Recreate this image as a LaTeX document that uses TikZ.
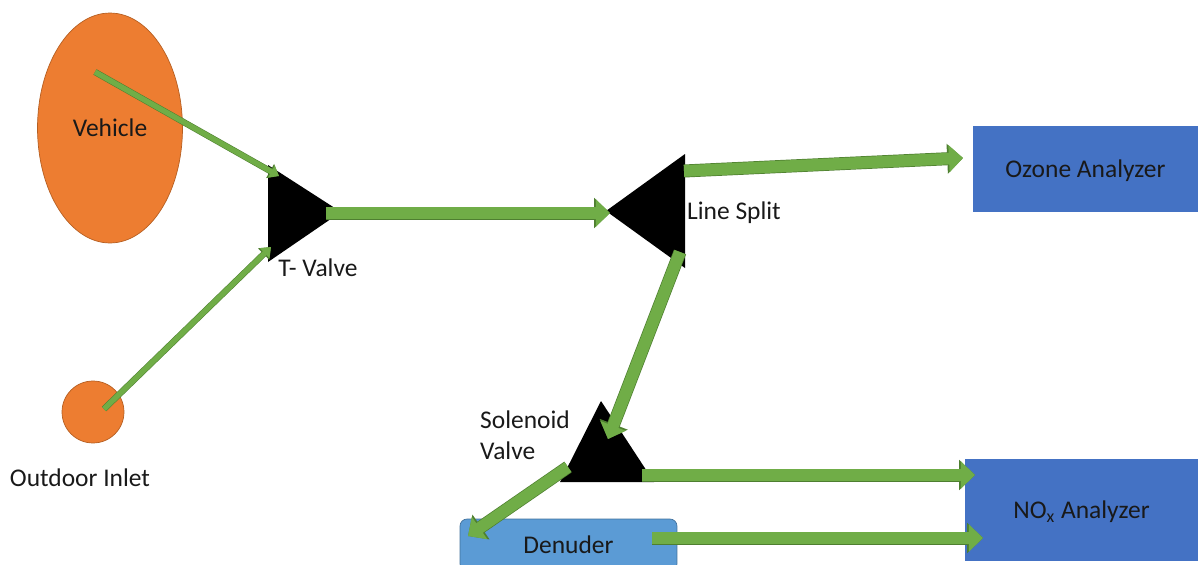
\documentclass[tikz,border=0pt]{standalone}
\usepackage{fontspec}
\setmainfont{Carlito}
\usetikzlibrary{arrows.meta, shapes.geometric}
\definecolor{vehorange}{HTML}{ED7D31}
\definecolor{vehedge}{HTML}{B65F22}
\definecolor{pipegreen}{HTML}{70AD47}
\definecolor{pipeedge}{HTML}{4E7F30}
\definecolor{anablue}{HTML}{4472C4}
\definecolor{denblue}{HTML}{5B9BD5}
\definecolor{denedge}{HTML}{41719C}

\tikzset{
  lbl/.style={font=\fontsize{14.5}{17.5}\selectfont, text=black!90},
  pipe/.style={draw=pipegreen, line width=6.6pt, -{Triangle[length=8pt,width=15pt]},
    preaction={draw=pipeedge, line width=7.4pt, -{Triangle[length=9pt,width=16.6pt]}}},
  thinpipe/.style={draw=pipegreen, line width=3pt, -{Triangle[length=5pt,width=7.5pt]},
    preaction={draw=pipeedge, line width=3.6pt, -{Triangle[length=5.8pt,width=8.8pt]}}},
  source/.style={fill=vehorange, draw=vehedge, line width=0.4pt, inner sep=0pt},
  analyzer/.style={lbl, fill=anablue, inner sep=0pt, text depth=0pt}
}

\begin{document}
\begin{tikzpicture}[x=0.02cm, y=-0.02cm]
  \useasboundingbox (0,0) rectangle (1198,565);
  % sources
  \node[source, ellipse, minimum width=2.9cm, minimum height=4.6cm, lbl, text depth=0pt] (vehicle) at (110,128) {Vehicle};
  \node[source, circle, minimum size=1.24cm] (inlet) at (93,412) {};
  \node[lbl] (inletlbl) at (80,478) {Outdoor Inlet};
  % T-valve
  \coordinate (tv1) at (268,165);
  \coordinate (tv2) at (268,262);
  \coordinate (tv3) at (341,212);
  \fill (tv1) -- (tv3) -- (tv2) -- cycle;
  \node[lbl] (tvlbl) at (318,268) {T- Valve};
  % line split
  \coordinate (ls1) at (685,154);
  \coordinate (ls2) at (685,268);
  \coordinate (ls3) at (606,211);
  \fill (ls1) -- (ls3) -- (ls2) -- cycle;
  \node[lbl] (lslbl) at (734,213) {Line Split};
  % solenoid valve
  \coordinate (sv1) at (601,401);
  \coordinate (sv2) at (560,482);
  \coordinate (sv3) at (654,482);
  \fill (sv1) -- (sv3) -- (sv2) -- cycle;
  \node[lbl, align=left, anchor=west] (svlbl) at (474,435) {Solenoid\\Valve};
  % analyzers and denuder
  \node[analyzer, minimum width=4.5cm, minimum height=1.72cm] (ozone) at (1085.5,169) {Ozone Analyzer};
  \node[analyzer, minimum width=4.66cm, minimum height=2.04cm] (nox) at (1081.5,510) {NO\textsubscript{x} Analyzer};
  \node[lbl, fill=denblue, draw=denedge, line width=0.4pt, rounded corners=4pt,
    minimum width=4.34cm, minimum height=1.04cm, inner sep=0pt] (denuder) at (568.5,545) {Denuder};
  % flow
  \coordinate (vehout) at (95,72);
  \coordinate (tvin1) at (279,176);
  \coordinate (inletout) at (104,409);
  \coordinate (tvin2) at (271,247);
  \coordinate (tvout) at (326,213);
  \coordinate (lsin) at (610,213);
  \coordinate (lsout1) at (684,171);
  \coordinate (ozonein) at (963,158);
  \coordinate (lsout2) at (680,252);
  \coordinate (svin) at (608,439);
  \coordinate (svout1) at (642,475);
  \coordinate (noxin1) at (975,475);
  \coordinate (svout2) at (568,467);
  \coordinate (denin) at (468,536);
  \coordinate (denout) at (652,538);
  \coordinate (noxin2) at (983,538);
  \draw[thinpipe] (vehout) -- (tvin1);
  \draw[thinpipe] (inletout) -- (tvin2);
  \draw[pipe] (tvout) -- (lsin);
  \draw[pipe] (lsout1) -- (ozonein);
  \draw[pipe] (lsout2) -- (svin);
  \draw[pipe] (svout1) -- (noxin1);
  \draw[pipe] (svout2) -- (denin);
  \draw[pipe] (denout) -- (noxin2);
\end{tikzpicture}
\end{document}
